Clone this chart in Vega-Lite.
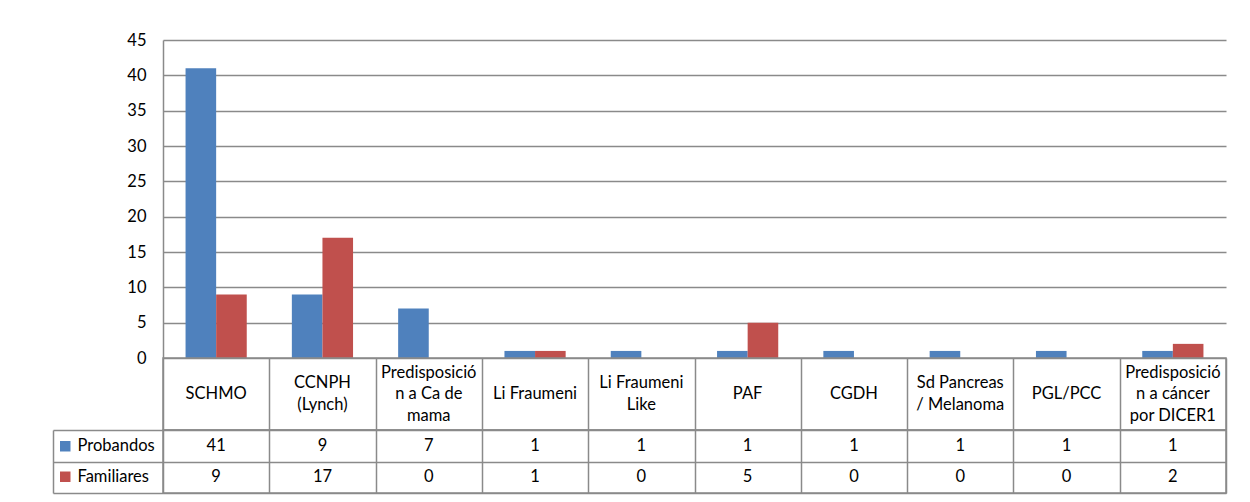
{
  "$schema": "https://vega.github.io/schema/vega-lite/v6.json",
  "autosize": {"type": "pad"},
  "padding": {"left": 51, "top": 32, "right": 5, "bottom": 5},
  "bounds": "flush",
  "spacing": 0,
  "config": {
    "font": "Lato",
    "view": {"stroke": null},
    "axis": {"labelFont": "Lato", "labelFontSize": 16.5, "labelColor": "#000000", "title": null}
  },
  "datasets": {
    "bars": [
      {"cat": "SCHMO", "serie": "Probandos", "value": 41},
      {"cat": "SCHMO", "serie": "Familiares", "value": 9},
      {"cat": "CCNPH\n(Lynch)", "serie": "Probandos", "value": 9},
      {"cat": "CCNPH\n(Lynch)", "serie": "Familiares", "value": 17},
      {"cat": "Predisposició\nn a Ca de\nmama", "serie": "Probandos", "value": 7},
      {"cat": "Predisposició\nn a Ca de\nmama", "serie": "Familiares", "value": 0},
      {"cat": "Li Fraumeni", "serie": "Probandos", "value": 1},
      {"cat": "Li Fraumeni", "serie": "Familiares", "value": 1},
      {"cat": "Li Fraumeni\nLike", "serie": "Probandos", "value": 1},
      {"cat": "Li Fraumeni\nLike", "serie": "Familiares", "value": 0},
      {"cat": "PAF", "serie": "Probandos", "value": 1},
      {"cat": "PAF", "serie": "Familiares", "value": 5},
      {"cat": "CGDH", "serie": "Probandos", "value": 1},
      {"cat": "CGDH", "serie": "Familiares", "value": 0},
      {"cat": "Sd Pancreas\n/ Melanoma", "serie": "Probandos", "value": 1},
      {"cat": "Sd Pancreas\n/ Melanoma", "serie": "Familiares", "value": 0},
      {"cat": "PGL/PCC", "serie": "Probandos", "value": 1},
      {"cat": "PGL/PCC", "serie": "Familiares", "value": 0},
      {"cat": "Predisposició\nn a cáncer\npor DICER1", "serie": "Probandos", "value": 1},
      {"cat": "Predisposició\nn a cáncer\npor DICER1", "serie": "Familiares", "value": 2}
    ]
  },
  "vconcat": [
    {
      "width": 1063,
      "height": 318,
      "data": {"name": "bars"},
      "mark": {"type": "bar"},
      "encoding": {
        "x": {
          "field": "cat", "type": "nominal", "sort": null,
          "scale": {"domain": ["SCHMO", "CCNPH\n(Lynch)", "Predisposició\nn a Ca de\nmama", "Li Fraumeni", "Li Fraumeni\nLike", "PAF", "CGDH", "Sd Pancreas\n/ Melanoma", "PGL/PCC", "Predisposició\nn a cáncer\npor DICER1"], "paddingInner": 0, "paddingOuter": 0},
          "axis": null
        },
        "xOffset": {
          "field": "serie", "type": "nominal",
          "scale": {"domain": ["Probandos", "Familiares"], "paddingInner": 0, "paddingOuter": 0.737}
        },
        "y": {
          "field": "value", "type": "quantitative",
          "scale": {"domain": [0, 45], "nice": false},
          "axis": {
            "values": [0, 5, 10, 15, 20, 25, 30, 35, 40, 45],
            "grid": true, "gridColor": "#8a8a8a", "gridWidth": 1.5,
            "domain": true, "domainColor": "#8a8a8a", "domainWidth": 1.5,
            "ticks": false, "labelPadding": 17
          }
        },
        "color": {
          "field": "serie", "type": "nominal",
          "scale": {"domain": ["Probandos", "Familiares"], "range": ["#4F81BD", "#C0504D"]},
          "legend": {
            "orient": "none", "legendX": -106, "legendY": 398, "direction": "vertical",
            "title": null, "symbolType": "square", "symbolSize": 110, "symbolStrokeWidth": 0,
            "labelFont": "Lato", "labelFontSize": 16.5, "labelColor": "#000000",
            "rowPadding": 13.5, "padding": 0, "labelOffset": 4
          }
        }
      }
    },
    {
      "width": 1063,
      "height": 72,
      "view": {"stroke": "#8a8a8a", "strokeWidth": 1.5},
      "data": {"name": "bars"},
      "transform": [{"filter": "datum.serie == 'Probandos'"}],
      "encoding": {
        "x": {
          "field": "cat", "type": "nominal", "sort": null,
          "scale": {"domain": ["SCHMO", "CCNPH\n(Lynch)", "Predisposició\nn a Ca de\nmama", "Li Fraumeni", "Li Fraumeni\nLike", "PAF", "CGDH", "Sd Pancreas\n/ Melanoma", "PGL/PCC", "Predisposició\nn a cáncer\npor DICER1"], "paddingInner": 0, "paddingOuter": 0},
          "axis": {"labels": false, "ticks": false, "domain": false, "grid": true, "tickBand": "extent", "gridColor": "#8a8a8a", "gridWidth": 1.5}
        },
        "text": {"field": "cat", "type": "nominal"}
      },
      "layer": [
        {
          "transform": [{"filter": "length(split(datum.cat, '\\n')) == 1"}],
          "mark": {"type": "text", "lineBreak": "\n", "lineHeight": 21.5, "fontSize": 16.5, "font": "Lato", "color": "#000000", "baseline": "middle", "align": "center"}
        },
        {
          "transform": [{"filter": "length(split(datum.cat, '\\n')) == 2"}],
          "mark": {"type": "text", "lineBreak": "\n", "lineHeight": 21.5, "fontSize": 16.5, "font": "Lato", "color": "#000000", "baseline": "middle", "align": "center", "dy": -10.75}
        },
        {
          "transform": [{"filter": "length(split(datum.cat, '\\n')) == 3"}],
          "mark": {"type": "text", "lineBreak": "\n", "lineHeight": 21.5, "fontSize": 16.5, "font": "Lato", "color": "#000000", "baseline": "middle", "align": "center", "dy": -21.5}
        }
      ]
    },
    {
      "width": 1063,
      "height": 63,
      "view": {"stroke": "#8a8a8a", "strokeWidth": 1.5},
      "data": {"name": "bars"},
      "mark": {"type": "text", "fontSize": 16.5, "font": "Lato", "color": "#000000", "baseline": "middle", "align": "center"},
      "encoding": {
        "x": {
          "field": "cat", "type": "nominal", "sort": null,
          "scale": {"domain": ["SCHMO", "CCNPH\n(Lynch)", "Predisposició\nn a Ca de\nmama", "Li Fraumeni", "Li Fraumeni\nLike", "PAF", "CGDH", "Sd Pancreas\n/ Melanoma", "PGL/PCC", "Predisposició\nn a cáncer\npor DICER1"], "paddingInner": 0, "paddingOuter": 0},
          "axis": {"labels": false, "ticks": false, "domain": false, "grid": true, "tickBand": "extent", "gridColor": "#8a8a8a", "gridWidth": 1.5}
        },
        "y": {
          "field": "serie", "type": "nominal", "sort": null,
          "scale": {"domain": ["Probandos", "Familiares"], "paddingInner": 0, "paddingOuter": 0},
          "axis": {
            "labels": false, "offset": 110, "domain": true, "domainColor": "#8a8a8a", "domainWidth": 1.5,
            "ticks": true, "tickSize": -110, "tickBand": "extent", "tickExtra": true, "tickColor": "#8a8a8a", "tickWidth": 1.5,
            "grid": true, "gridColor": "#8a8a8a", "gridWidth": 1.5
          }
        },
        "text": {"field": "value", "type": "quantitative"}
      }
    }
  ]
}
